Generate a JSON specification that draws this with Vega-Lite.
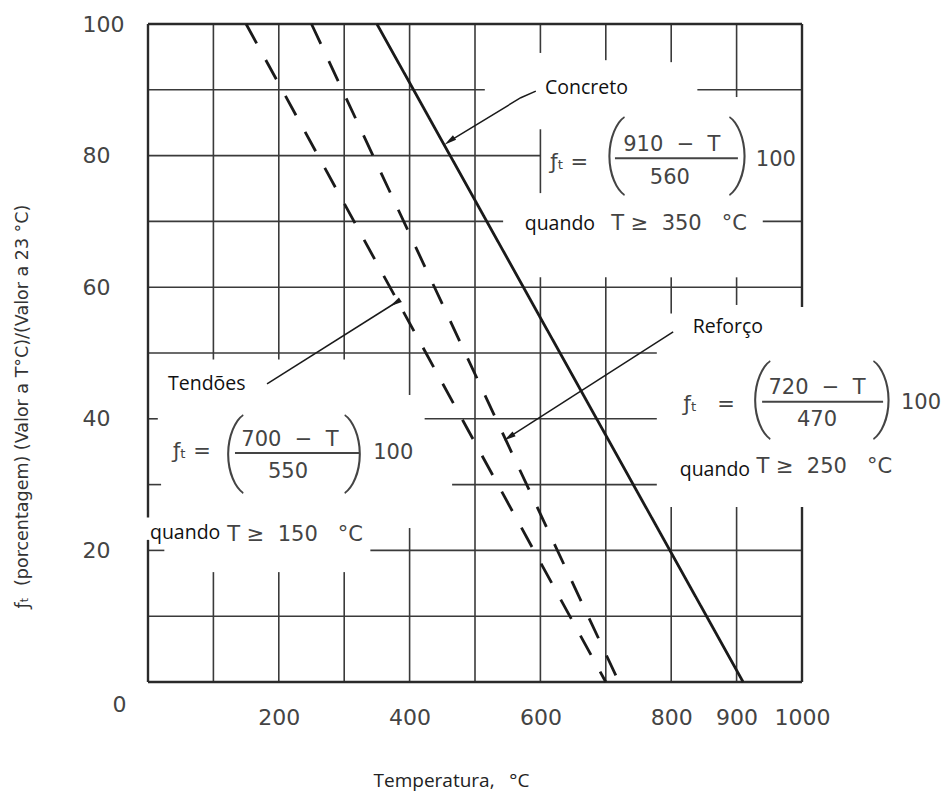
{
  "$schema": "https://vega.github.io/schema/vega-lite/v6.json",
  "width": 654,
  "height": 658,
  "autosize": {"type": "none"},
  "padding": {"left": 148, "top": 24, "right": 142, "bottom": 119},
  "background": "white",
  "config": {"view": {"stroke": null}},
  "datasets": {
    "grade": [
      {"x": 0, "x2": 515, "y": 90, "y2": 90},
      {"x": 840, "x2": 1000, "y": 90, "y2": 90},
      {"x": 0, "x2": 600, "y": 80, "y2": 80},
      {"x": 0, "x2": 543, "y": 70, "y2": 70},
      {"x": 940, "x2": 1000, "y": 70, "y2": 70},
      {"x": 0, "x2": 1000, "y": 60, "y2": 60},
      {"x": 0, "x2": 778, "y": 50, "y2": 50},
      {"x": 0, "x2": 15, "y": 40, "y2": 40},
      {"x": 423, "x2": 778, "y": 40, "y2": 40},
      {"x": 0, "x2": 20, "y": 30, "y2": 30},
      {"x": 465, "x2": 778, "y": 30, "y2": 30},
      {"x": 0, "x2": 25, "y": 20, "y2": 20},
      {"x": 340, "x2": 1000, "y": 20, "y2": 20},
      {"x": 0, "x2": 1000, "y": 10, "y2": 10},
      {"x": 100, "x2": 100, "y": 49, "y2": 100},
      {"x": 100, "x2": 100, "y": 0, "y2": 16.7},
      {"x": 200, "x2": 200, "y": 49, "y2": 100},
      {"x": 200, "x2": 200, "y": 0, "y2": 16.7},
      {"x": 300, "x2": 300, "y": 49, "y2": 100},
      {"x": 300, "x2": 300, "y": 0, "y2": 16.7},
      {"x": 400, "x2": 400, "y": 43.6, "y2": 100},
      {"x": 400, "x2": 400, "y": 0, "y2": 23.4},
      {"x": 500, "x2": 500, "y": 0, "y2": 100},
      {"x": 600, "x2": 600, "y": 0, "y2": 61.5},
      {"x": 600, "x2": 600, "y": 74.3, "y2": 84},
      {"x": 600, "x2": 600, "y": 95.6, "y2": 100},
      {"x": 700, "x2": 700, "y": 0, "y2": 61.5},
      {"x": 700, "x2": 700, "y": 94.5, "y2": 100},
      {"x": 800, "x2": 800, "y": 0, "y2": 26.6},
      {"x": 800, "x2": 800, "y": 56, "y2": 61.5},
      {"x": 800, "x2": 800, "y": 94.2, "y2": 100},
      {"x": 900, "x2": 900, "y": 0, "y2": 26.6},
      {"x": 900, "x2": 900, "y": 57.3, "y2": 61.5},
      {"x": 900, "x2": 900, "y": 88.9, "y2": 100}
    ],
    "moldura": [
      {"x": 0, "x2": 1000, "y": 100, "y2": 100},
      {"x": 0, "x2": 1000, "y": 0, "y2": 0},
      {"x": 0, "x2": 0, "y": 0, "y2": 21.6},
      {"x": 0, "x2": 0, "y": 25, "y2": 100},
      {"x": 1000, "x2": 1000, "y": 0, "y2": 26.6},
      {"x": 1000, "x2": 1000, "y": 57, "y2": 100}
    ],
    "curvas": [
      {"material": "Concreto", "x": 350, "y": 100},
      {"material": "Concreto", "x": 910, "y": 0},
      {"material": "Reforço", "x": 250, "y": 100},
      {"material": "Reforço", "x": 720, "y": 0},
      {"material": "Tendões", "x": 150, "y": 100},
      {"material": "Tendões", "x": 700, "y": 0}
    ],
    "setas": [
      {"seta": "Concreto", "ordem": 1, "x": 593, "y": 89.8},
      {"seta": "Concreto", "ordem": 2, "x": 570, "y": 88.8},
      {"seta": "Concreto", "ordem": 3, "x": 461, "y": 82.2},
      {"seta": "Reforço", "ordem": 1, "x": 803, "y": 53.2},
      {"seta": "Reforço", "ordem": 2, "x": 552, "y": 37.2},
      {"seta": "Tendões", "ordem": 1, "x": 182, "y": 45.3},
      {"seta": "Tendões", "ordem": 2, "x": 378, "y": 57.6}
    ],
    "pontas": [
      {"seta": "Concreto", "x": 461, "y": 82.2},
      {"seta": "Reforço", "x": 552, "y": 37.2},
      {"seta": "Tendões", "x": 378, "y": 57.6}
    ],
    "nomes": [
      {"texto": "Concreto", "x": 607, "y": 90.3},
      {"texto": "Reforço", "x": 833, "y": 54},
      {"texto": "Tendões", "x": 30.6, "y": 45.3},
      {"texto": "quando", "x": 576, "y": 69.6},
      {"texto": "quando", "x": 813, "y": 32.2},
      {"texto": "quando", "x": 3, "y": 22.6}
    ],
    "formulas": [
      {"texto": "ƒₜ =", "x": 644, "y": 78.9},
      {"texto": "910\u00a0\u00a0−\u00a0\u00a0T", "x": 801, "y": 81.6},
      {"texto": "560", "x": 798, "y": 76.6},
      {"texto": "100", "x": 960, "y": 79.3},
      {"texto": "T\u00a0≥\u00a0\u00a0350\u00a0\u00a0\u00a0°C", "x": 812, "y": 69.6},
      {"texto": "ƒₜ\u00a0\u00a0\u00a0=", "x": 858, "y": 42.1},
      {"texto": "720\u00a0\u00a0−\u00a0\u00a0T", "x": 1023, "y": 44.7},
      {"texto": "470", "x": 1023, "y": 39.8},
      {"texto": "100", "x": 1182, "y": 42.4},
      {"texto": "T\u00a0≥\u00a0\u00a0250\u00a0\u00a0\u00a0°C", "x": 1034, "y": 32.7},
      {"texto": "ƒₜ =", "x": 67, "y": 35},
      {"texto": "700\u00a0\u00a0−\u00a0\u00a0T", "x": 217, "y": 36.8},
      {"texto": "550", "x": 214, "y": 31.9},
      {"texto": "100", "x": 375, "y": 34.8},
      {"texto": "T\u00a0≥\u00a0\u00a0150\u00a0\u00a0\u00a0°C", "x": 225, "y": 22.3}
    ],
    "parenteses": [
      {"texto": "(", "x": 713, "y": 80.1},
      {"texto": ")", "x": 905, "y": 80.1},
      {"texto": "(", "x": 936, "y": 43},
      {"texto": ")", "x": 1125, "y": 43},
      {"texto": "(", "x": 130, "y": 34.8},
      {"texto": ")", "x": 316.5, "y": 34.8}
    ],
    "fracoes": [
      {"x": 714, "x2": 902, "y": 79.6},
      {"x": 939, "x2": 1124, "y": 42.6},
      {"x": 133, "x2": 324, "y": 34.8}
    ]
  },
  "encoding": {
    "x": {
      "field": "x",
      "type": "quantitative",
      "scale": {"domain": [0, 1000], "nice": false, "zero": false},
      "axis": {
        "values": [200, 400, 600, 800, 900, 1000],
        "format": "d",
        "grid": false,
        "ticks": false,
        "domain": false,
        "labelFlush": false,
        "labelOverlap": false,
        "labelFont": "DejaVu Sans",
        "labelFontSize": 22,
        "labelColor": "#444444",
        "labelBaseline": "middle",
        "labelPadding": 35,
        "title": "Temperatura,\u00a0\u00a0\u00a0°C",
        "titleFont": "Open Sans",
        "titleFontSize": 19,
        "titleFontWeight": "normal",
        "titleColor": "#222222",
        "titleX": 303,
        "titleY": 98,
        "titleAlign": "center",
        "titleBaseline": "middle"
      }
    },
    "y": {
      "field": "y",
      "type": "quantitative",
      "scale": {"domain": [0, 100], "nice": false},
      "axis": {
        "values": [0, 20, 40, 60, 80, 100],
        "grid": false,
        "ticks": false,
        "domain": false,
        "labelFont": "DejaVu Sans",
        "labelFontSize": 22,
        "labelColor": "#444444",
        "labelAlign": "left",
        "labelBaseline": "middle",
        "labelPadding": {"condition": {"test": "datum.value === 0", "value": 36}, "value": 66},
        "labelOffset": {"condition": {"test": "datum.value === 0", "value": 22}, "value": 0},
        "title": "ƒₜ\u00a0\u00a0(porcentagem) (Valor a T°C)/(Valor a 23 °C)",
        "titleFont": "DejaVu Sans",
        "titleFontSize": 17.5,
        "titleFontWeight": "normal",
        "titleColor": "#333333",
        "titleX": -126,
        "titleY": 382,
        "titleAngle": -90,
        "titleAlign": "center",
        "titleBaseline": "middle"
      }
    }
  },
  "layer": [
    {
      "data": {"name": "grade"},
      "mark": {"type": "rule", "color": "#3a3a3a", "strokeWidth": 1.6},
      "encoding": {"x2": {"field": "x2"}, "y2": {"field": "y2"}}
    },
    {
      "data": {"name": "moldura"},
      "mark": {"type": "rule", "color": "#2a2a2a", "strokeWidth": 2.4},
      "encoding": {"x2": {"field": "x2"}, "y2": {"field": "y2"}}
    },
    {
      "data": {"name": "curvas"},
      "mark": {"type": "line", "color": "#1a1a1a", "strokeWidth": 2.8},
      "encoding": {
        "detail": {"field": "material"},
        "strokeDash": {
          "field": "material",
          "type": "nominal",
          "scale": {"domain": ["Concreto", "Reforço", "Tendões"], "range": [[1, 0], [22, 19], [22, 19]]},
          "legend": null
        }
      }
    },
    {
      "data": {"name": "setas"},
      "mark": {"type": "line", "color": "#1a1a1a", "strokeWidth": 1.5},
      "encoding": {
        "detail": {"field": "seta"},
        "order": {"field": "ordem", "type": "quantitative"}
      }
    },
    {
      "data": {"name": "pontas"},
      "mark": {"type": "point", "shape": "M0,-1L0.45,1L-0.45,1Z", "filled": true, "color": "#1a1a1a", "size": 150, "opacity": 1},
      "encoding": {
        "angle": {
          "field": "seta",
          "type": "nominal",
          "scale": {"domain": ["Concreto", "Reforço", "Tendões"], "range": [235, 238, 57]},
          "legend": null
        }
      }
    },
    {
      "data": {"name": "fracoes"},
      "mark": {"type": "rule", "color": "#444444", "strokeWidth": 2},
      "encoding": {"x2": {"field": "x2"}}
    },
    {
      "data": {"name": "parenteses"},
      "mark": {"type": "text", "font": "Roboto", "fontWeight": 100, "fontSize": 78, "color": "#444444", "align": "center", "baseline": "middle"},
      "encoding": {"text": {"field": "texto"}}
    },
    {
      "data": {"name": "formulas"},
      "mark": {"type": "text", "font": "DejaVu Sans", "fontSize": 21, "color": "#444444", "align": "center", "baseline": "middle"},
      "encoding": {"text": {"field": "texto"}}
    },
    {
      "data": {"name": "nomes"},
      "mark": {"type": "text", "font": "Open Sans", "fontSize": 19.5, "color": "#111111", "align": "left", "baseline": "middle"},
      "encoding": {"text": {"field": "texto"}}
    }
  ]
}
